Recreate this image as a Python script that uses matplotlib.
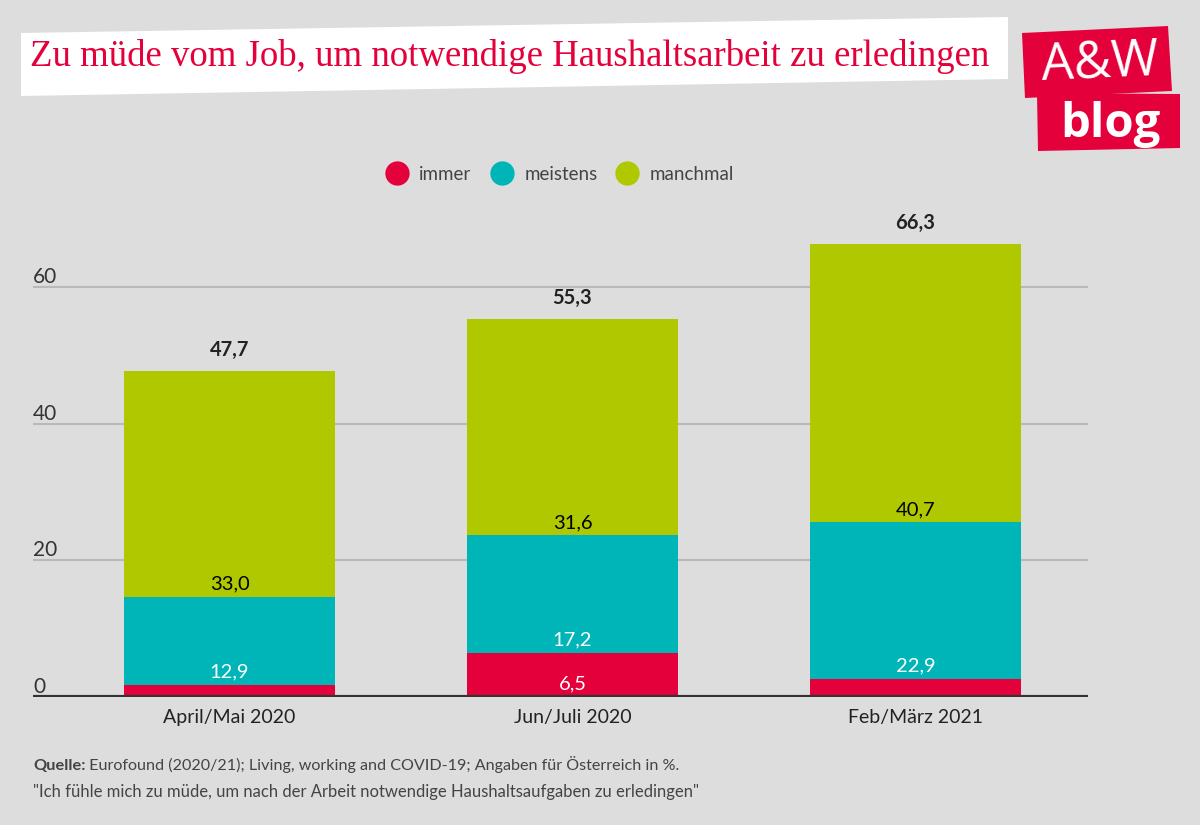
#!/usr/bin/env python

import matplotlib.pyplot as plt
from matplotlib.patches import Polygon
from matplotlib.lines import Line2D
from matplotlib import transforms
import numpy as np

categories = ["April/Mai 2020", "Jun/Juli 2020", "Feb/März 2021"]
immer = [1.8, 6.5, 2.7]
meistens = [12.9, 17.2, 22.9]
manchmal = [33.0, 31.6, 40.7]
totals = [47.7, 55.3, 66.3]
series_names = ["immer", "meistens", "manchmal"]
y_ticks = [0, 20, 40, 60]

title = "Zu müde vom Job, um notwendige Haushaltsarbeit zu erledingen"
source_bold = "Quelle:"
source_text = " Eurofound (2020/21); Living, working and COVID-19; Angaben für Österreich in %."
question = '"Ich fühle mich zu müde, um nach der Arbeit notwendige Haushaltsaufgaben zu erledingen"'

W, H = 1200, 825
BG = "#dddddd"
RED = "#e4003a"
TEAL = "#00b5b8"
GREEN = "#afc800"
SANS = ["Lato", "DejaVu Sans"]


def fx(px):
    return px / W


def fy(py):
    return 1 - py / H


def fmt(v):
    return f"{v:.1f}".replace(".", ",")


def main():
    plt.rcParams["font.family"] = SANS
    fig = plt.figure(figsize=(W / 100, H / 100), dpi=100, facecolor=BG)
    ax = fig.add_axes((fx(33), fy(697), fx(1088) - fx(33), fy(219) - fy(697)))
    ax.set_facecolor(BG)

    x = np.arange(len(categories))
    width = 0.615
    colors = [RED, TEAL, GREEN]
    label_colors = ["white", "white", "black"]
    bottom = np.zeros(len(categories))
    for vals, c, lc in zip([immer, meistens, manchmal], colors, label_colors):
        vals = np.array(vals)
        ax.bar(x, vals, width, bottom=bottom, color=c, zorder=2)
        for xi, b, v in zip(x, bottom, vals):
            if v >= 5:
                ax.annotate(fmt(v), (xi, b), xytext=(0, 3), textcoords="offset points",
                            ha="center", va="bottom", color=lc, fontsize=14.5, zorder=3)
        bottom += vals

    for xi, t in zip(x, totals):
        ax.annotate(fmt(t), (xi, t), xytext=(0, 8), textcoords="offset points",
                    ha="center", va="bottom", color="#222222", fontsize=14.5,
                    fontweight="bold")

    ax.set_xlim(-0.573, 2.503)
    ax.set_ylim(0, 70)
    for s in ax.spines.values():
        s.set_visible(False)
    ax.set_yticks([])
    ax.set_xticks(x)
    ax.set_xticklabels(categories, fontsize=14, color="#222222")
    ax.tick_params(axis="x", length=0, pad=9)

    trans = transforms.blended_transform_factory(ax.transAxes, ax.transData)
    for t in y_ticks:
        if t > 0:
            ax.axhline(t, color="#b9b9b9", lw=1.5, zorder=1)
        ax.text(0, t, str(t), transform=trans, ha="left", va="bottom",
                fontsize=15, color="#333333")
    ax.axhline(0, color="#333333", lw=3, zorder=4)

    # title box
    fig.patches.append(Polygon(
        [(fx(21), fy(33)), (fx(1008), fy(17)), (fx(1008), fy(79)), (fx(21), fy(96))],
        closed=True, transform=fig.transFigure, facecolor="white", edgecolor="none"))
    fig.text(fx(30), fy(66), title, fontsize=26.5, color=RED,
             family=["Liberation Serif", "DejaVu Serif"], va="baseline", ha="left")

    # logo
    fig.patches.append(Polygon(
        [(fx(1022), fy(33)), (fx(1168), fy(26)), (fx(1172), fy(91)), (fx(1025), fy(98))],
        closed=True, transform=fig.transFigure, facecolor=RED, edgecolor="none"))
    fig.patches.append(Polygon(
        [(fx(1037), fy(93)), (fx(1180), fy(94)), (fx(1180), fy(148)), (fx(1038), fy(151))],
        closed=True, transform=fig.transFigure, facecolor=RED, edgecolor="none"))
    fig.text(fx(1100), fy(64), "A&W", fontsize=37, color="white", ha="center",
             va="center", rotation=2.5, family=["Open Sans", "DejaVu Sans"])
    fig.text(fx(1110), fy(124), "blog", fontsize=34, color="white", ha="center",
             va="center", fontweight="bold", family=["Open Sans", "DejaVu Sans"])

    # legend
    handles = [Line2D([], [], marker="o", ls="none", markersize=17.5,
                      markerfacecolor=c, markeredgecolor="none") for c in colors]
    fig.legend(handles, series_names, loc="center", bbox_to_anchor=(fx(560), fy(174)),
               ncol=3, frameon=False, fontsize=13.5, labelcolor="#444444",
               handletextpad=0.6, columnspacing=1.0, handlelength=1.2)

    # footer
    t = fig.text(fx(33), fy(770), source_bold, fontsize=11.8, color="#444444",
                 fontweight="bold", va="baseline", ha="left")
    fig.canvas.draw()
    bb = t.get_window_extent()
    fig.text(bb.x1 / W, fy(770), source_text, fontsize=11.6, color="#444444",
             va="baseline", ha="left")
    fig.text(fx(33), fy(797), question, fontsize=12, color="#444444",
             va="baseline", ha="left")

    fig.savefig("out.png", dpi=100, facecolor=BG)


if __name__ == "__main__":
    main()
